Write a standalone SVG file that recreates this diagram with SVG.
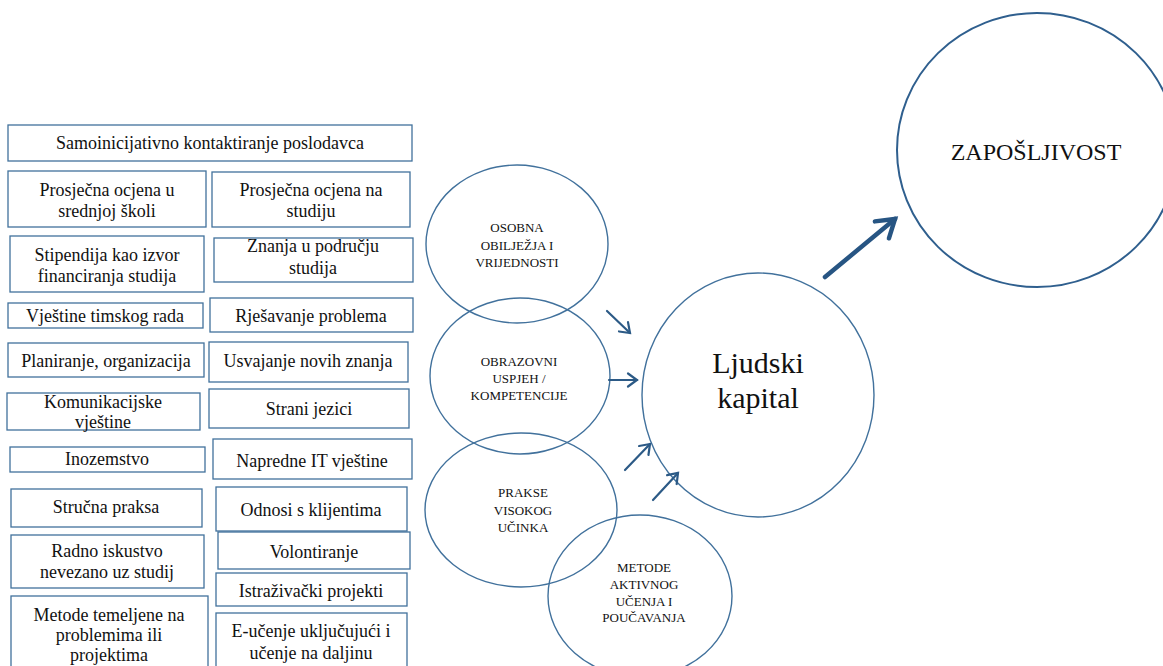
<svg xmlns="http://www.w3.org/2000/svg" width="1163" height="666" viewBox="0 0 1163 666">
<style>
.box{fill:#fff;stroke:#41719c;stroke-width:1.3}
.bt{font-family:"Liberation Serif","Times New Roman",serif;font-size:18px;fill:#111;text-anchor:middle}
.ell{fill:none;stroke:#41719c;stroke-width:1.4}
.et{font-family:"Liberation Serif","Times New Roman",serif;font-size:13px;fill:#111;text-anchor:middle}
.big{fill:none;stroke:#2f5f8e;stroke-width:2}
.arr{fill:none;stroke:#2c5a86;stroke-width:2.2;stroke-linecap:round}
.arrb{fill:none;stroke:#275583;stroke-width:4.5;stroke-linecap:round}
</style>
<defs>
<marker id="ah" markerUnits="userSpaceOnUse" viewBox="-12 -8 14 16" refX="0" refY="0" markerWidth="14" markerHeight="16" orient="auto" overflow="visible">
<path d="M-9,-6.5 L0,0 L-9,6.5" fill="none" stroke="#2c5a86" stroke-width="2.2" stroke-linecap="round" stroke-linejoin="miter"/>
</marker>
<marker id="ahb" markerUnits="userSpaceOnUse" viewBox="-20 -14 24 28" refX="0" refY="0" markerWidth="24" markerHeight="28" orient="auto" overflow="visible">
<path d="M-17,-11 L0,0 L-17,11" fill="none" stroke="#275583" stroke-width="4.5" stroke-linecap="round" stroke-linejoin="miter"/>
</marker>
</defs>
<rect width="1163" height="666" fill="#fff"/>

<g id="box1"><rect class="box" x="8" y="125" width="404" height="36"/><text class="bt" x="210" y="149">Samoinicijativno kontaktiranje poslodavca</text></g>
<g id="box2"><rect class="box" x="8" y="171" width="198" height="56"/><text class="bt" x="107" y="196">Prosječna ocjena u</text><text class="bt" x="107" y="217">srednjoj školi</text></g>
<g id="box3"><rect class="box" x="212" y="172" width="198" height="55"/><text class="bt" x="311" y="196">Prosječna ocjena na</text><text class="bt" x="311" y="217">studiju</text></g>
<g id="box4"><rect class="box" x="10" y="236" width="194" height="56"/><text class="bt" x="107" y="261">Stipendija kao izvor</text><text class="bt" x="107" y="282">financiranja studija</text></g>
<g id="box5"><rect class="box" x="214" y="238" width="199" height="44"/><text class="bt" x="313" y="252">Znanja u području</text><text class="bt" x="313" y="274">studija</text></g>
<g id="box6"><rect class="box" x="8" y="303" width="195" height="25"/><text class="bt" x="105" y="322">Vještine timskog rada</text></g>
<g id="box7"><rect class="box" x="210" y="298" width="203" height="34"/><text class="bt" x="311" y="322">Rješavanje problema</text></g>
<g id="box8"><rect class="box" x="8" y="343" width="196" height="34"/><text class="bt" x="106" y="367">Planiranje, organizacija</text></g>
<g id="box9"><rect class="box" x="209" y="342" width="199" height="40"/><text class="bt" x="308" y="367">Usvajanje novih znanja</text></g>
<g id="box10"><rect class="box" x="7" y="393" width="193" height="37"/><text class="bt" x="103" y="408">Komunikacijske</text><text class="bt" x="103" y="428">vještine</text></g>
<g id="box11"><rect class="box" x="209" y="389" width="200" height="39"/><text class="bt" x="309" y="415">Strani jezici</text></g>
<g id="box12"><rect class="box" x="10" y="447" width="195" height="25"/><text class="bt" x="107" y="465">Inozemstvo</text></g>
<g id="box13"><rect class="box" x="213" y="439" width="199" height="40"/><text class="bt" x="312" y="467">Napredne IT vještine</text></g>
<g id="box14"><rect class="box" x="11" y="489" width="191" height="38"/><text class="bt" x="106" y="513">Stručna praksa</text></g>
<g id="box15"><rect class="box" x="216" y="487" width="191" height="44"/><text class="bt" x="311" y="516">Odnosi s klijentima</text></g>
<g id="box16"><rect class="box" x="11" y="535" width="193" height="53"/><text class="bt" x="107" y="557">Radno iskustvo</text><text class="bt" x="107" y="578">nevezano uz studij</text></g>
<g id="box17"><rect class="box" x="218" y="532" width="192" height="37"/><text class="bt" x="314" y="558">Volontiranje</text></g>
<g id="box18"><rect class="box" x="216" y="573" width="191" height="33"/><text class="bt" x="311" y="597">Istraživački projekti</text></g>
<g id="box19"><rect class="box" x="11" y="596" width="197" height="80"/><text class="bt" x="109" y="621">Metode temeljene na</text><text class="bt" x="109" y="641">problemima ili</text><text class="bt" x="109" y="661">projektima</text></g>
<g id="box20"><rect class="box" x="216" y="613" width="191" height="63"/><text class="bt" x="311" y="637">E-učenje uključujući i</text><text class="bt" x="311" y="659">učenje na daljinu</text></g>

<g id="osobna"><ellipse class="ell" cx="517" cy="244" rx="91" ry="79"/><text class="et" x="517" y="232">OSOBNA</text><text class="et" x="517" y="250">OBILJEŽJA I</text><text class="et" x="517" y="267">VRIJEDNOSTI</text></g>
<g id="obrazovni"><ellipse class="ell" cx="520" cy="376" rx="90" ry="78"/><text class="et" x="519" y="366">OBRAZOVNI</text><text class="et" x="519" y="383">USPJEH /</text><text class="et" x="519" y="400">KOMPETENCIJE</text></g>
<g id="prakse"><ellipse class="ell" cx="521" cy="510" rx="96" ry="77"/><text class="et" x="523" y="497">PRAKSE</text><text class="et" x="523" y="515">VISOKOG</text><text class="et" x="523" y="532">UČINKA</text></g>
<g id="metode"><ellipse class="ell" cx="640" cy="596" rx="92" ry="81"/><text class="et" x="644" y="572">METODE</text><text class="et" x="644" y="589">AKTIVNOG</text><text class="et" x="644" y="606">UČENJA I</text><text class="et" x="644" y="622">POUČAVANJA</text></g>
<g id="ljudski"><ellipse class="ell" cx="758" cy="395" rx="116" ry="122"/><text x="758" y="373" font-family="Liberation Serif, Times New Roman, serif" font-size="30" fill="#111" text-anchor="middle">Ljudski</text><text x="758" y="408" font-family="Liberation Serif, Times New Roman, serif" font-size="30" fill="#111" text-anchor="middle">kapital</text></g>
<g id="zaposljivost"><ellipse class="big" cx="1037" cy="150" rx="140" ry="137"/><text x="1036" y="160" font-family="Liberation Serif, Times New Roman, serif" font-size="24" fill="#111" text-anchor="middle">ZAPOŠLJIVOST</text></g>

<g id="connectors">
<line class="arr" x1="607" y1="311" x2="630" y2="333" marker-end="url(#ah)"/>
<line class="arr" x1="609" y1="380" x2="637" y2="380" marker-end="url(#ah)"/>
<line class="arr" x1="625" y1="470" x2="650" y2="444" marker-end="url(#ah)"/>
<line class="arr" x1="653" y1="500" x2="678" y2="473" marker-end="url(#ah)"/>
<line class="arrb" x1="825" y1="277" x2="895" y2="219" marker-end="url(#ahb)"/>
</g>
</svg>
